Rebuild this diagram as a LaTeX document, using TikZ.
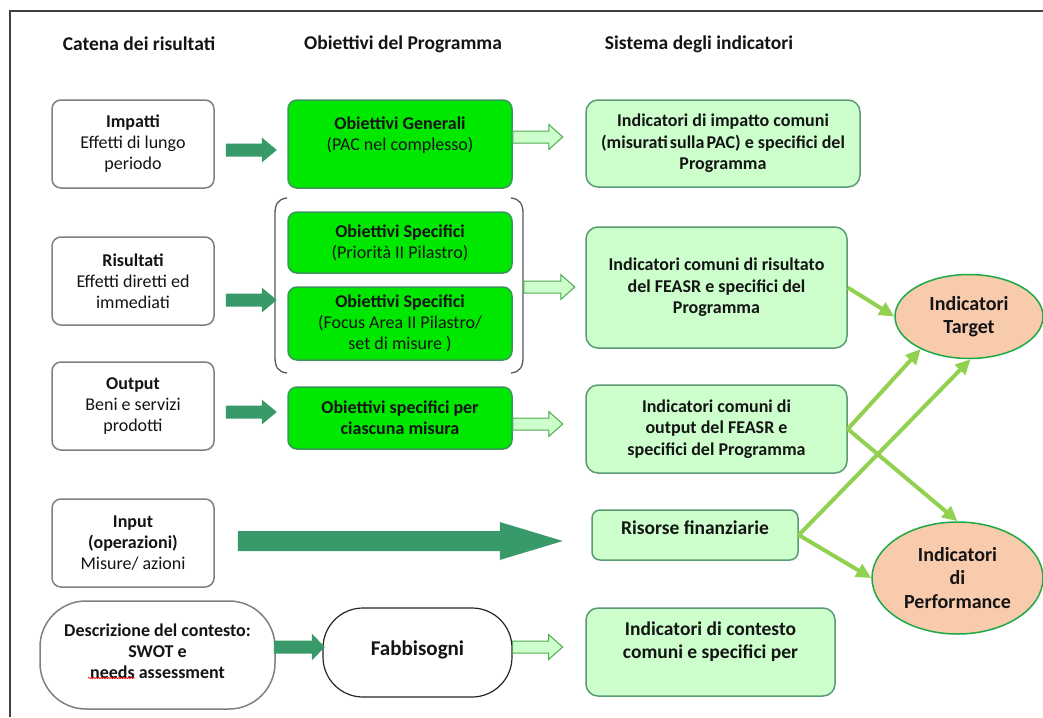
\documentclass[tikz,border=0pt]{standalone}
\usepackage{fontspec}
\setmainfont{Carlito}
\usetikzlibrary{shapes.geometric,arrows.meta,calc,decorations.pathmorphing}
\definecolor{darkarr}{RGB}{56,154,104}
\definecolor{brightg}{RGB}{0,232,0}
\definecolor{brightgb}{RGB}{60,150,90}
\definecolor{lightg}{RGB}{204,255,204}
\definecolor{lightgb}{RGB}{90,155,115}
\definecolor{hollowb}{RGB}{80,170,80}
\definecolor{peach}{RGB}{248,203,173}
\definecolor{ellb}{RGB}{30,168,70}
\definecolor{limeg}{RGB}{146,208,80}
\definecolor{boxgray}{RGB}{128,128,128}
\definecolor{bracketc}{RGB}{90,90,90}
\definecolor{framec}{RGB}{64,64,64}
\definecolor{txt}{RGB}{20,20,20}
% #1 style, #2 tail coordinate, #3 length, #4 shaft half width, #5 head half width, #6 head length
\newcommand\blkarr[6]{\path[#1] (#2) ++(0,#4) -- ++({#3-#6},0) -- ++(0,{#5-#4}) -- ++(#6,{-#5}) -- ++({-#6},{-#5}) -- ++(0,{#5-#4}) -- ++({-(#3-#6)},0) -- cycle;}
\begin{document}
\begin{tikzpicture}[x=1pt,y=-1pt,
  every node/.style={text=txt},
  tx/.style={font=\fontsize{18}{21}\selectfont, align=center, inner sep=0pt},
  lbox/.style={tx, draw=boxgray, line width=1.5pt, rounded corners=9pt, fill=white, minimum width=162pt, minimum height=88pt},
  gbox/.style={tx, draw=brightgb, line width=1.5pt, rounded corners=9pt, fill=brightg, minimum width=224pt},
  rbox/.style={tx, draw=lightgb, line width=1.5pt, rounded corners=12pt, fill=lightg, font=\fontsize{18}{21.5}\selectfont\bfseries},
  ell/.style={tx, ellipse, draw=ellb, line width=1.5pt, fill=peach, font=\fontsize{20}{23.5}\selectfont\bfseries},
  head/.style={font=\fontsize{19.5}{22}\selectfont\bfseries, inner sep=0pt},
  hollow/.style={fill=lightg, draw=hollowb, line width=1pt},
  darkfill/.style={fill=darkarr},
  conn/.style={draw=limeg, line width=4pt, -{Triangle[length=15pt,width=14pt]}}
]
\useasboundingbox (0,0) rectangle (1043,717);
\fill[white] (0,0) rectangle (1043,717);
\draw[framec, line width=2pt] (1043,11) -- (10,11) -- (10,717);

% headers
\node[head] (h1) at (139,44) {Catena dei risultati};
\node[head] (h2) at (403,44) {Obiettivi del Programma};
\node[head] (h3) at (699,44) {Sistema degli indicatori};

% left column
\node[lbox] (imp) at (133,144) {\textbf{Impatti}\\Effetti di lungo\\periodo};
\node[lbox] (ris) at (133,281) {\textbf{Risultati}\\Effetti diretti ed\\immediati};
\node[lbox] (out) at (133,406) {\textbf{Output}\\Beni e servizi\\prodotti};
\node[lbox] (inp) at (133,543) {\textbf{Input}\\\textbf{(operazioni)}\\Misure/ azioni};
\node[lbox, minimum width=235pt, minimum height=108pt, rounded corners=46pt, font=\fontsize{18}{21}\selectfont\bfseries] (desc) at (157.5,655) {Descrizione del contesto:\\SWOT e\\needs assessment\\[-13pt]\mbox{}};

% middle column
\node[gbox, minimum height=88pt] (gen) at (400,144) {\textbf{Obiettivi Generali}\\(PAC nel complesso)\\\mbox{}};
\node[gbox, minimum height=61pt] (sp1) at (400,242.5) {\textbf{Obiettivi Specifici}\\(Priorità II Pilastro)};
\node[gbox, minimum height=73pt] (sp2) at (400,323.5) {\textbf{Obiettivi Specifici}\\(Focus Area II Pilastro/\\set di misure )};
\node[gbox, minimum height=62pt, font=\fontsize{18}{21}\selectfont\bfseries] (sc) at (400,418) {Obiettivi specifici per\\ciascuna misura};
\node[lbox, draw=black!85, line width=1.2pt, minimum width=189pt, minimum height=89pt, rounded corners=40pt, font=\fontsize{21}{24}\selectfont\bfseries] (fab) at (417.5,652.5) {\mbox{}\\[-14pt]Fabbisogni};

% bracket
\draw[bracketc, line width=1.3pt] (287,198) .. controls (278,199) and (275,204) .. (275,214) -- (275,357) .. controls (275,367) and (278,372) .. (287,373);
\draw[bracketc, line width=1.3pt] (511,198) .. controls (520,199) and (523,204) .. (523,214) -- (523,357) .. controls (523,367) and (520,372) .. (511,373);

% right column
\node[rbox, minimum width=274pt, minimum height=87pt] (ii) at (723,143.5) {Indicatori di impatto comuni\\(misurati\hspace{-2pt} sulla\hspace{-2pt} PAC) e specifici del\\Programma};
\node[rbox, minimum width=261pt, minimum height=121pt] (ir) at (716.5,287.5) {Indicatori comuni di risultato\\del FEASR e specifici del\\Programma};
\node[rbox, minimum width=261pt, minimum height=88pt] (io) at (716.5,429) {Indicatori comuni di\\output del FEASR e\\specifici del Programma};
\node[rbox, minimum width=206pt, minimum height=50pt, rounded corners=8pt, font=\fontsize{19.5}{21}\selectfont\bfseries] (rf) at (695,535) {Risorse finanziarie\\[-7pt]\mbox{}};
\node[rbox, minimum width=249pt, minimum height=88pt, font=\fontsize{19.5}{23}\selectfont\bfseries] (ic) at (710.5,652) {Indicatori di contesto\\comuni e specifici per\\\mbox{}};

% ellipses
\node[ell, minimum width=148pt, minimum height=84pt] (tg) at (969,316.5) {Indicatori\\Target};
\node[ell, minimum width=171pt, minimum height=112pt] (pf) at (957.5,578) {Indicatori\\di\\Performance};

% dark block arrows
\coordinate (a1) at ($(imp.east)+(11,6)$);
\coordinate (a2) at ($(ris.east)+(11,19)$);
\coordinate (a3) at ($(out.east)+(11,6)$);
\coordinate (a4) at ($(inp.east)+(23,-2)$);
\coordinate (a5) at ($(desc.east)+(-2,-8)$);
\blkarr{darkfill}{a1}{51}{6.5}{12.5}{15}
\blkarr{darkfill}{a2}{51}{6.5}{12.5}{15}
\blkarr{darkfill}{a3}{51}{6.5}{12.5}{15}
\blkarr{darkfill}{a4}{325}{10}{19}{63}
\blkarr{darkfill}{a5}{51}{6.5}{13.5}{13}

% hollow arrows
\coordinate (b1) at ($(gen.east)+(0,-7)$);
\coordinate (b2) at ($(sp2.east)+(11,-36.5)$);
\coordinate (b3) at ($(sc.east)+(0,6)$);
\coordinate (b4) at ($(fab.east)+(0,-5.5)$);
\blkarr{hollow}{b1}{50}{6}{12.5}{14}
\blkarr{hollow}{b2}{51}{6}{12.5}{14}
\blkarr{hollow}{b3}{50}{6}{12.5}{14}
\blkarr{hollow}{b4}{50}{6}{12.5}{14}

% connectors
\draw[conn] (ir.east) -- (tg.west);
\draw[conn] (io.east) -- (tg.214);
\draw[conn] (io.east) -- (pf.north);
\draw[conn] (rf.east) -- (tg.-88);
\draw[conn] (rf.east) -- (pf.west);

% spell-check underline
\draw[red, line width=0.6pt, decorate, decoration={snake, amplitude=0.7pt, segment length=2.5pt}] ($(desc.center)+(-69.5,23)$) -- ++(47,0);
\end{tikzpicture}
\end{document}
